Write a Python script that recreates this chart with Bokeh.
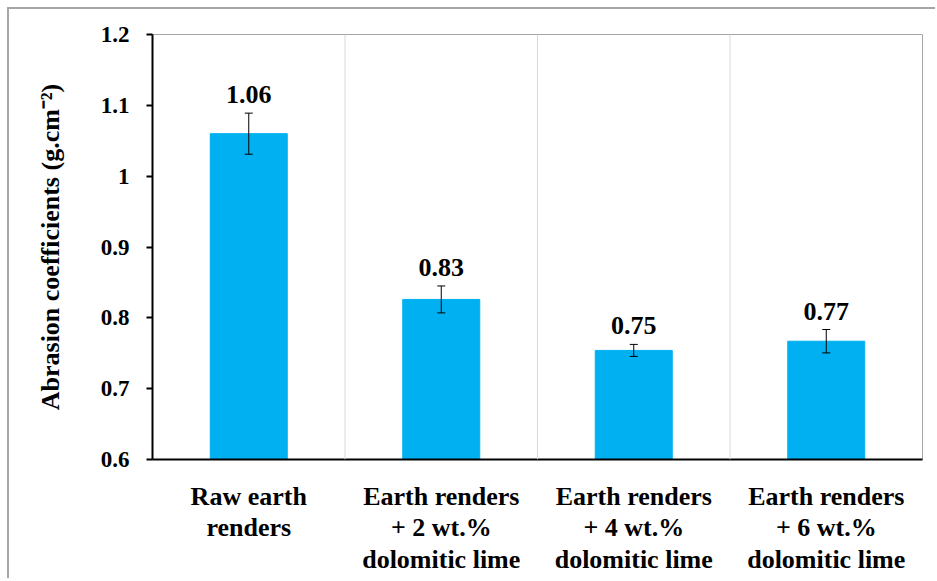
from bokeh.plotting import figure
from bokeh.models import ColumnDataSource, Whisker, Span, FixedTicker, TeeHead
from bokeh.core.properties import value
from bokeh.embed import file_html
from bokeh.resources import INLINE

categories = ["Raw earth\nrenders",
              "Earth renders\n+ 2 wt.%\ndolomitic lime",
              "Earth renders\n+ 4 wt.%\ndolomitic lime",
              "Earth renders\n+ 6 wt.%\ndolomitic lime"]
values = [1.06, 0.826, 0.754, 0.767]
errors = [0.029, 0.019, 0.0085, 0.0165]
labels = ["1.06", "0.83", "0.75", "0.77"]
y_ticks = [0.6, 0.7, 0.8, 0.9, 1.0, 1.1, 1.2]

FONT = "'Liberation Serif', 'Times New Roman', serif"

src = ColumnDataSource(dict(
    cat=categories, val=values,
    upper=[v + e for v, e in zip(values, errors)],
    lower=[v - e for v, e in zip(values, errors)],
    lab=labels,
))

p = figure(x_range=categories, y_range=(0.6, 1.2), width=928, height=571,
           output_backend="svg", toolbar_location=None,
           min_border_left=143, min_border_right=15, min_border_top=25, min_border_bottom=121,
           styles={"margin": "7px 0 0 7px",
                   "border-top": "2px solid #a6a6a6", "border-left": "2px solid #a6a6a6"})

p.vbar(x="cat", top="val", bottom=0.6, width=0.4, source=src,
       fill_color="#00B0F0", line_color="#00B0F0")

w = Whisker(base="cat", upper="upper", lower="lower", source=src, level="overlay",
            line_color="black", line_width=1,
            upper_head=TeeHead(size=8, line_color="black", line_width=1),
            lower_head=TeeHead(size=8, line_color="black", line_width=1))
p.add_layout(w)

p.text(x="cat", y="upper", text="lab", source=src, text_align="center",
       text_baseline="bottom", y_offset=-10, text_font=value(FONT),
       text_font_style="bold", text_font_size="26px", text_color="black")

for loc in [1, 2, 3]:
    p.add_layout(Span(location=loc, dimension="height", line_color="#d9d9d9", line_width=1))

p.xgrid.visible = False
p.ygrid.visible = False
p.outline_line_color = "#a6a6a6"
p.outline_line_width = 1

p.yaxis.ticker = FixedTicker(ticks=y_ticks)
p.yaxis.major_label_overrides = {0.6: "0.6", 0.7: "0.7", 0.8: "0.8", 0.9: "0.9", 1.0: "1", 1.1: "1.1", 1.2: "1.2"}
p.yaxis.axis_label = "Abrasion coefficients (g.cm\u207b\u00b2)"
p.yaxis.axis_label_text_font = FONT
p.yaxis.axis_label_text_font_style = "bold"
p.yaxis.axis_label_text_font_size = "26px"
p.yaxis.axis_label_text_color = "black"
p.yaxis.axis_label_standoff = 33
p.yaxis.major_label_text_font = FONT
p.yaxis.major_label_text_font_style = "bold"
p.yaxis.major_label_text_font_size = "23px"
p.yaxis.major_label_text_color = "black"
p.yaxis.major_label_standoff = 17
p.yaxis.axis_line_color = "black"
p.yaxis.axis_line_width = 2
p.yaxis.major_tick_line_color = "black"
p.yaxis.major_tick_line_width = 2
p.yaxis.major_tick_out = 6
p.yaxis.major_tick_in = 0
p.yaxis.minor_tick_line_color = None

p.xaxis.major_label_text_font = FONT
p.xaxis.major_label_text_font_style = "bold"
p.xaxis.major_label_text_font_size = "26px"
p.xaxis.major_label_text_color = "black"
p.xaxis.major_label_text_line_height = 1.1
p.xaxis.major_label_standoff = 16
p.xaxis.axis_line_color = "black"
p.xaxis.axis_line_width = 2
p.xaxis.major_tick_line_color = None
p.xaxis.minor_tick_line_color = None

open("out.html", "w").write(file_html(p, INLINE))
